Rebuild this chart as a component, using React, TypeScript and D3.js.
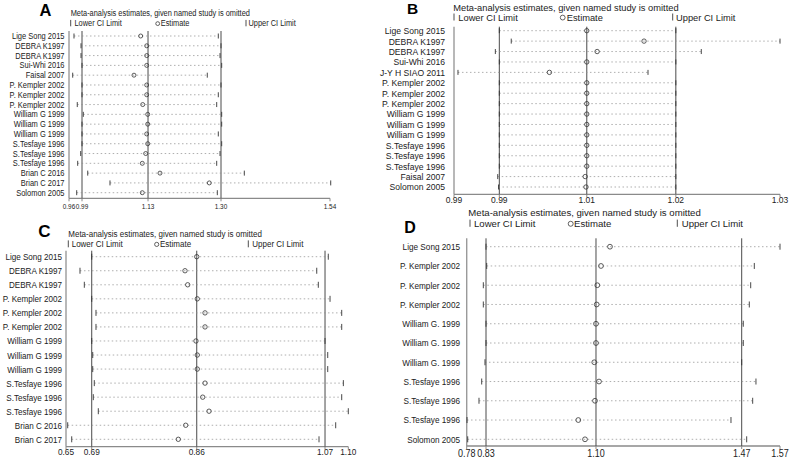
import React from "react";
import * as d3 from "d3";

const FONT = "'Liberation Sans', Arial, Helvetica, sans-serif";

// ---------- Panel A ----------
const aNames = ["Lige Song 2015", "DEBRA K1997", "DEBRA K1997", "Sui-Whi 2016", "Faisal 2007", "P. Kempler 2002", "P. Kempler 2002", "P. Kempler 2002", "William G 1999", "William G 1999", "William G 1999", "S.Tesfaye 1996", "S.Tesfaye 1996", "S.Tesfaye 1996", "Brian C 2016", "Brian C 2017", "Solomon 2005"];
const aLower = [0.9711, 0.9867, 0.9867, 0.9889, 0.9682, 0.9889, 0.9889, 0.9784, 0.9918, 0.9889, 0.9889, 0.9889, 0.986, 0.9793, 1.0016, 1.0511, 0.9771];
const aEst = [1.1193, 1.1327, 1.1327, 1.1327, 1.1044, 1.1327, 1.1327, 1.1238, 1.1349, 1.1349, 1.1327, 1.1349, 1.1304, 1.1229, 1.1622, 1.2718, 1.1229];
const aUpper = [1.2918, 1.2978, 1.2956, 1.2993, 1.2673, 1.2978, 1.2918, 1.2882, 1.2993, 1.2993, 1.2918, 1.2993, 1.2956, 1.2882, 1.3496, 1.5416, 1.2896];
const aRefs = [0.9889, 1.1356, 1.2978];
const aDomain = [0.96, 1.54];
const aTicks = [0.96, 0.9889, 1.1356, 1.2978, 1.54];
const aTickLabels = ["0.96", "0.99", "1.13", "1.30", "1.54"];

// ---------- Panel B ----------
const bNames = ["Lige Song 2015", "DEBRA K1997", "DEBRA K1997", "Sui-Whi 2016", "J-Y H SIAO 2011", "P. Kempler 2002", "P. Kempler 2002", "P. Kempler 2002", "William G 1999", "William G 1999", "William G 1999", "S.Tesfaye 1996", "S.Tesfaye 1996", "S.Tesfaye 1996", "Faisal 2007", "Solomon 2005"];
const bLower = [0.9944, 0.9959, 0.9939, 0.9944, 0.9892, 0.9944, 0.9944, 0.9944, 0.9944, 0.9944, 0.9944, 0.9944, 0.9944, 0.9944, 0.9942, 0.9943];
const bEst = [1.0054, 1.0126, 1.0067, 1.0054, 1.0007, 1.0054, 1.0054, 1.0054, 1.0054, 1.0054, 1.0054, 1.0054, 1.0054, 1.0054, 1.0052, 1.0053];
const bUpper = [1.0166, 1.0297, 1.0198, 1.0166, 1.0131, 1.0166, 1.0166, 1.0166, 1.0166, 1.0166, 1.0166, 1.0166, 1.0166, 1.0166, 1.0166, 1.0166];
const bRefs = [0.9944, 1.0054, 1.0166];
const bDomain = [0.9887, 1.0297];
const bTicks = [0.9887, 0.9944, 1.0054, 1.0166, 1.0297];
const bTickLabels = ["0.99", "0.99", "1.01", "1.02", "1.03"];

// ---------- Panel C ----------
const cNames = ["Lige Song 2015", "DEBRA K1997", "DEBRA K1997", "P. Kempler 2002", "P. Kempler 2002", "P. Kempler 2002", "William G 1999", "William G 1999", "William G 1999", "S.Tesfaye 1996", "S.Tesfaye 1996", "S.Tesfaye 1996", "Brian C 2016", "Brian C 2017"];
const cLower = [0.691, 0.6723, 0.6792, 0.691, 0.6978, 0.6978, 0.691, 0.6926, 0.6926, 0.6951, 0.6935, 0.7015, 0.6527, 0.6591];
const cEst = [0.8584, 0.8397, 0.844, 0.8593, 0.8716, 0.8716, 0.8572, 0.8593, 0.8593, 0.8716, 0.8679, 0.878, 0.8408, 0.829];
const cUpper = [1.0681, 1.0497, 1.0522, 1.0709, 1.0895, 1.0895, 1.0629, 1.0672, 1.0672, 1.0921, 1.0895, 1.1, 1.0799, 1.0533];
const cRefs = [0.691, 0.8584, 1.0629];
const cDomain = [0.65, 1.1];
const cTicks = [0.65, 0.691, 0.8584, 1.0629, 1.1];
const cTickLabels = ["0.65", "0.69", "0.86", "1.07", "1.10"];

// ---------- Panel D ----------
const dNames = ["Lige Song 2015", "P. Kempler 2002", "P. Kempler 2002", "P. Kempler 2002", "William G. 1999", "William G. 1999", "William G. 1999", "S.Tesfaye 1996", "S.Tesfaye 1996", "S.Tesfaye 1996", "Solomon 2005"];
const dLower = [0.8287, 0.8304, 0.8219, 0.8219, 0.8287, 0.8287, 0.8261, 0.8178, 0.811, 0.7808, 0.7825];
const dEst = [1.1413, 1.1186, 1.1093, 1.1078, 1.106, 1.106, 1.1017, 1.1136, 1.1035, 1.0614, 1.0783];
const dUpper = [1.57, 1.5052, 1.4961, 1.4926, 1.4774, 1.4774, 1.4734, 1.5094, 1.5011, 1.4464, 1.486];
const dRefs = [0.8287, 1.106, 1.4734];
const dDomain = [0.78, 1.57];
const dTicks = [0.78, 0.8287, 1.106, 1.4734, 1.57];
const dTickLabels = ["0.78", "0.83", "1.10", "1.47", "1.57"];

const TITLE = "Meta-analysis estimates, given named study is omitted";
const LEGEND = ["Lower CI Limit", "Estimate", "Upper CI Limit"];

type Layout = {
  x0: number; x1: number; top: number; axisY: number; firstRow: number; lastRow: number;
  labelX: number; labelSize: number; titleX: number; titleY: number; titleSize: number;
  legendY: number; legendMarks: number[]; legendTexts: number[];
  letterX: number; letterY: number; letterSize: number; tickSize: number; tickLabelY: number;
  r: number; cap: number; sy: number; tsy: number;
};

function T(props: { x: number; y: number; size: number; sy: number; anchor?: string; children: React.ReactNode }) {
  const { x, y, size, sy, anchor, children } = props;
  return (
    <text transform={`translate(${x},${y}) scale(1,${sy})`} fontSize={size} textAnchor={anchor || "start"} fill="#222">
      {children}
    </text>
  );
}

function Panel(props: {
  letter: string; names: string[]; lower: number[]; est: number[]; upper: number[];
  refs: number[]; domain: number[]; ticks: number[]; tickLabels: string[]; L: Layout;
}) {
  const { letter, names, lower, est, upper, refs, domain, ticks, tickLabels, L } = props;
  const x = d3.scaleLinear().domain(domain).range([L.x0, L.x1]);
  const y = d3.scaleLinear().domain([0, names.length - 1]).range([L.firstRow, L.lastRow]);
  const mh = L.titleSize * 0.75 * L.tsy;
  return (
    <g fontFamily={FONT}>
      <text x={L.letterX} y={L.letterY} fontSize={L.letterSize} fontWeight="bold" textAnchor="middle" fill="#000">{letter}</text>
      <T x={L.titleX} y={L.titleY} size={L.titleSize} sy={L.tsy}>{TITLE}</T>
      {/* legend */}
      <line x1={L.legendMarks[0]} x2={L.legendMarks[0]} y1={L.legendY - mh} y2={L.legendY} stroke="#222" strokeWidth={0.8} />
      <T x={L.legendTexts[0]} y={L.legendY} size={L.titleSize} sy={L.tsy}>{LEGEND[0]}</T>
      <circle cx={L.legendMarks[1]} cy={L.legendY - mh * 0.42} r={L.titleSize * 0.26} fill="none" stroke="#222" strokeWidth={0.7} />
      <T x={L.legendTexts[1]} y={L.legendY} size={L.titleSize} sy={L.tsy}>{LEGEND[1]}</T>
      <line x1={L.legendMarks[2]} x2={L.legendMarks[2]} y1={L.legendY - mh} y2={L.legendY} stroke="#222" strokeWidth={0.8} />
      <T x={L.legendTexts[2]} y={L.legendY} size={L.titleSize} sy={L.tsy}>{LEGEND[2]}</T>
      {/* left axis */}
      <line x1={L.x0} x2={L.x0} y1={L.top} y2={L.axisY} stroke="#9a9a9a" strokeWidth={1.4} />
      {/* bottom axis */}
      <line x1={L.x0} x2={L.x1} y1={L.axisY} y2={L.axisY} stroke="#8a8a8a" strokeWidth={1.3} />
      {ticks.map((t, i) => (
        <g key={"t" + i}>
          <line x1={x(t)} x2={x(t)} y1={L.axisY} y2={L.axisY + 3} stroke="#8a8a8a" strokeWidth={1} />
          <T x={x(t)} y={L.tickLabelY} size={L.tickSize} sy={L.sy} anchor="middle">{tickLabels[i]}</T>
        </g>
      ))}
      {/* reference lines */}
      {refs.map((v, i) => (
        <line key={"r" + i} x1={x(v)} x2={x(v)} y1={L.top} y2={L.axisY} stroke="#4a4a4a" strokeWidth={1} />
      ))}
      {/* rows */}
      {names.map((n, i) => (
        <g key={"n" + i}>
          <T x={L.labelX} y={y(i) + L.labelSize * 0.36 * L.sy} size={L.labelSize} sy={L.sy} anchor="end">{n}</T>
          <line x1={x(lower[i])} x2={x(upper[i])} y1={y(i)} y2={y(i)} stroke="#8c8c8c" strokeWidth={0.7} strokeDasharray="1.5,2.5" />
          <line x1={x(lower[i])} x2={x(lower[i])} y1={y(i) - L.cap} y2={y(i) + L.cap} stroke="#333" strokeWidth={0.9} />
          <line x1={x(upper[i])} x2={x(upper[i])} y1={y(i) - L.cap} y2={y(i) + L.cap} stroke="#333" strokeWidth={0.9} />
          <circle cx={x(est[i])} cy={y(i)} r={L.r} fill="none" stroke="#333" strokeWidth={0.8} />
        </g>
      ))}
    </g>
  );
}

const layoutA: Layout = {
  x0: 69, x1: 330, top: 31, axisY: 198.3, firstRow: 36, lastRow: 192.7,
  labelX: 64.5, labelSize: 7.5, titleX: 70.7, titleY: 16, titleSize: 7.4,
  legendY: 26.3, legendMarks: [70.7, 157.7, 246], legendTexts: [74.5, 160.7, 248.5],
  letterX: 45.5, letterY: 15.5, letterSize: 16.5, tickSize: 6.4, tickLabelY: 208.5, r: 2, cap: 2.5, sy: 1.15, tsy: 1.15,
};
const layoutB: Layout = {
  x0: 454, x1: 780, top: 26.7, axisY: 194.3, firstRow: 30.7, lastRow: 187,
  labelX: 445, labelSize: 8.6, titleX: 453.3, titleY: 10.5, titleSize: 9.3,
  legendY: 20.5, legendMarks: [454, 562.7, 672.7], legendTexts: [458.3, 566.7, 676],
  letterX: 412.5, letterY: 13.5, letterSize: 15.5, tickSize: 8.5, tickLabelY: 203.3, r: 2.2, cap: 2.5, sy: 1.1, tsy: 1.0,
};
const layoutC: Layout = {
  x0: 66, x1: 348.3, top: 250.7, axisY: 446.7, firstRow: 256.7, lastRow: 439.3,
  labelX: 62, labelSize: 8.1, titleX: 68.3, titleY: 237, titleSize: 8,
  legendY: 247.3, legendMarks: [68.3, 156.7, 248.3], legendTexts: [71.7, 160, 252.3],
  letterX: 44.5, letterY: 236.7, letterSize: 17, tickSize: 8.3, tickLabelY: 454.5, r: 2.2, cap: 3, sy: 1.2, tsy: 1.15,
};
const layoutD: Layout = {
  x0: 466.7, x1: 780, top: 238.3, axisY: 446, firstRow: 246.7, lastRow: 439.3,
  labelX: 460, labelSize: 8.2, titleX: 468.3, titleY: 216, titleSize: 9.6,
  legendY: 226.8, legendMarks: [470, 570.7, 677.3], legendTexts: [474, 574, 681.7],
  letterX: 410, letterY: 232.7, letterSize: 16, tickSize: 9, tickLabelY: 456.7, r: 2.4, cap: 3, sy: 1.15, tsy: 1.0,
};

export default function App() {
  return (
    <div style={{ position: "absolute", left: 0, top: 0, width: 793, height: 460, background: "#fff" }}>
      <svg width={793} height={460} viewBox="0 0 793 460" style={{ display: "block" }}>
        <rect x={0} y={0} width={793} height={460} fill="#fff" />
        <Panel letter="A" names={aNames} lower={aLower} est={aEst} upper={aUpper} refs={aRefs} domain={aDomain} ticks={aTicks} tickLabels={aTickLabels} L={layoutA} />
        <Panel letter="B" names={bNames} lower={bLower} est={bEst} upper={bUpper} refs={bRefs} domain={bDomain} ticks={bTicks} tickLabels={bTickLabels} L={layoutB} />
        <Panel letter="C" names={cNames} lower={cLower} est={cEst} upper={cUpper} refs={cRefs} domain={cDomain} ticks={cTicks} tickLabels={cTickLabels} L={layoutC} />
        <Panel letter="D" names={dNames} lower={dLower} est={dEst} upper={dUpper} refs={dRefs} domain={dDomain} ticks={dTicks} tickLabels={dTickLabels} L={layoutD} />
      </svg>
    </div>
  );
}
